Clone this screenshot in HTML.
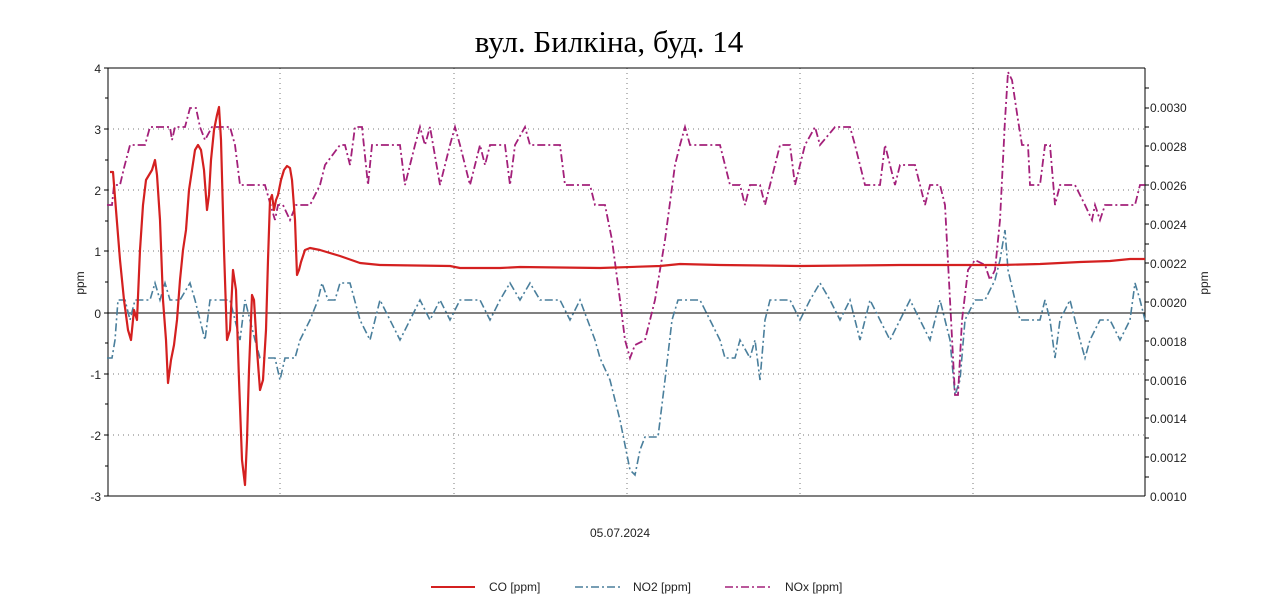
<!DOCTYPE html>
<html><head><meta charset="utf-8"><style>
body{margin:0;background:#fff;}
svg{display:block;}
text{font-family:"Liberation Sans",sans-serif;font-size:12px;fill:#222;}
</style></head><body>
<svg width="1280" height="606" viewBox="0 0 1280 606" xmlns="http://www.w3.org/2000/svg">
<text x="609" y="52" text-anchor="middle" style="font-family:'Liberation Serif',serif;font-size:31px;fill:#000">вул. Билкіна, буд. 14</text>
<g stroke="#777" stroke-width="1" stroke-dasharray="1,4">
<line x1="108" y1="129" x2="1145" y2="129"/><line x1="108" y1="190" x2="1145" y2="190"/>
<line x1="108" y1="251" x2="1145" y2="251"/><line x1="108" y1="374" x2="1145" y2="374"/>
<line x1="108" y1="435" x2="1145" y2="435"/>
<line x1="280" y1="68" x2="280" y2="496"/><line x1="454" y1="68" x2="454" y2="496"/>
<line x1="627" y1="68" x2="627" y2="496"/><line x1="800" y1="68" x2="800" y2="496"/>
<line x1="973" y1="68" x2="973" y2="496"/>
</g>
<line x1="108" y1="313" x2="1145" y2="313" stroke="#000" stroke-width="1"/>
<g stroke="#000" stroke-width="1" fill="none">
<line x1="108" y1="68" x2="1145" y2="68"/>
<line x1="108" y1="68" x2="108" y2="496"/>
<line x1="1145" y1="68" x2="1145" y2="496"/>
<line x1="108" y1="496" x2="1145" y2="496"/>
</g>
<g stroke="#000">
<line x1="104" y1="68" x2="108" y2="68"/><line x1="104" y1="129" x2="108" y2="129"/><line x1="104" y1="190" x2="108" y2="190"/><line x1="104" y1="251" x2="108" y2="251"/><line x1="104" y1="313" x2="108" y2="313"/><line x1="104" y1="374" x2="108" y2="374"/><line x1="104" y1="435" x2="108" y2="435"/><line x1="104" y1="496" x2="108" y2="496"/>
<line x1="105" y1="98" x2="108" y2="98"/><line x1="105" y1="160" x2="108" y2="160"/><line x1="105" y1="221" x2="108" y2="221"/><line x1="105" y1="282" x2="108" y2="282"/><line x1="105" y1="343" x2="108" y2="343"/><line x1="105" y1="404" x2="108" y2="404"/><line x1="105" y1="466" x2="108" y2="466"/>
<line x1="1145" y1="88" x2="1149" y2="88"/><line x1="1145" y1="108" x2="1149" y2="108"/><line x1="1145" y1="127" x2="1149" y2="127"/><line x1="1145" y1="146" x2="1149" y2="146"/><line x1="1145" y1="166" x2="1149" y2="166"/><line x1="1145" y1="185" x2="1149" y2="185"/><line x1="1145" y1="205" x2="1149" y2="205"/><line x1="1145" y1="224" x2="1149" y2="224"/><line x1="1145" y1="244" x2="1149" y2="244"/><line x1="1145" y1="263" x2="1149" y2="263"/><line x1="1145" y1="282" x2="1149" y2="282"/><line x1="1145" y1="302" x2="1149" y2="302"/><line x1="1145" y1="321" x2="1149" y2="321"/><line x1="1145" y1="341" x2="1149" y2="341"/><line x1="1145" y1="360" x2="1149" y2="360"/><line x1="1145" y1="380" x2="1149" y2="380"/><line x1="1145" y1="399" x2="1149" y2="399"/><line x1="1145" y1="418" x2="1149" y2="418"/><line x1="1145" y1="438" x2="1149" y2="438"/><line x1="1145" y1="457" x2="1149" y2="457"/><line x1="1145" y1="477" x2="1149" y2="477"/>
</g>
<g text-anchor="end">
<text x="101" y="73">4</text><text x="101" y="134">3</text><text x="101" y="195">2</text><text x="101" y="256">1</text><text x="101" y="318">0</text><text x="101" y="379">-1</text><text x="101" y="440">-2</text><text x="101" y="501">-3</text>
</g>
<g>
<text x="1150" y="112">0.0030</text><text x="1150" y="151">0.0028</text><text x="1150" y="190">0.0026</text><text x="1150" y="229">0.0024</text><text x="1150" y="268">0.0022</text><text x="1150" y="307">0.0020</text><text x="1150" y="346">0.0018</text><text x="1150" y="385">0.0016</text><text x="1150" y="423">0.0014</text><text x="1150" y="462">0.0012</text><text x="1150" y="501">0.0010</text>
</g>
<text transform="translate(84,283) rotate(-90)" text-anchor="middle">ppm</text>
<text transform="translate(1208,283) rotate(-90)" text-anchor="middle">ppm</text>
<text x="620" y="537" text-anchor="middle">05.07.2024</text>

<polyline fill="none" stroke="#4a7f9c" stroke-width="1.6" stroke-dasharray="8,3,2,3" points="107,358 112,358 115,340 118,300 125,300 130,320 135,300 150,300 155,283 160,300 165,283 170,300 180,300 190,283 195,300 200,320 205,340 210,300 230,300 235,320 240,340 245,300 250,320 255,340 260,358 265,358 275,358 280,380 285,358 295,358 300,340 310,320 318,300 322,283 328,300 335,300 340,283 350,283 360,320 370,340 375,320 380,300 390,320 400,340 410,320 420,300 430,320 440,300 450,320 460,300 480,300 490,320 500,300 510,283 520,300 530,283 540,300 560,300 570,320 580,300 595,340 600,358 610,380 620,420 630,470 635,475 640,450 645,437 658,437 665,380 672,320 678,300 700,300 710,320 720,340 725,358 735,358 740,340 750,358 755,340 760,380 765,320 770,300 790,300 800,320 810,300 820,283 830,300 840,320 850,300 860,340 870,300 880,320 890,340 900,320 910,300 920,320 930,340 940,300 945,320 950,340 955,395 960,380 965,320 975,300 985,300 995,280 1000,260 1005,230 1008,270 1015,300 1020,320 1040,320 1045,300 1050,320 1055,358 1060,320 1070,300 1080,340 1085,358 1090,340 1100,320 1110,320 1120,340 1130,320 1135,283 1140,300 1145,320"/>

<polyline fill="none" stroke="#a3207a" stroke-width="1.8" stroke-dasharray="8,3,2,3" points="107,205 112,205 114,185 120,185 124,168 130,145 145,145 150,127 160,127 170,127 172,140 175,127 185,127 190,108 196,108 200,127 205,140 212,127 230,127 235,145 240,185 265,185 270,203 275,220 278,205 283,205 290,220 296,205 310,205 320,185 325,165 340,145 345,145 350,165 355,127 362,127 368,185 372,145 400,145 405,185 415,145 420,127 425,145 430,127 440,185 450,145 455,127 460,145 470,185 480,145 485,165 490,145 505,145 510,185 515,145 525,127 530,145 560,145 565,185 590,185 595,205 605,205 612,240 620,300 625,340 630,358 635,345 645,340 655,300 665,240 675,165 680,145 685,127 690,145 720,145 725,165 730,185 740,185 745,205 750,185 760,185 765,205 770,185 780,145 790,145 795,185 800,165 805,145 815,127 820,145 835,127 850,127 855,145 860,165 865,185 880,185 885,145 895,185 900,165 915,165 920,185 925,205 930,185 940,185 945,205 950,300 955,395 958,395 962,320 968,270 975,260 985,265 990,280 995,270 1000,220 1005,120 1008,72 1012,80 1018,120 1022,145 1028,145 1030,185 1040,185 1045,145 1050,145 1055,205 1060,185 1075,185 1085,205 1092,220 1095,205 1100,220 1105,205 1135,205 1140,185 1145,185"/>

<polyline fill="none" stroke="#d42020" stroke-width="2.2" stroke-linejoin="round" points="110,172 113,172 116,210 120,260 124,300 128,330 131,340 134,310 137,320 140,250 143,205 146,180 149,175 152,170 155,160 157,175 160,220 163,300 166,340 168,383 171,360 174,345 177,320 180,280 183,250 186,230 189,190 192,170 195,150 198,145 201,150 204,170 207,210 209,195 211,160 214,130 217,115 219,107 221,140 224,250 227,340 230,330 233,270 236,290 239,380 242,460 245,485 247,440 249,370 252,295 254,300 257,350 260,390 263,380 266,330 268,260 270,200 272,195 274,210 276,200 278,195 281,180 284,170 287,166 290,168 292,180 295,220 297,275 299,270 301,262 305,250 310,248 320,250 340,256 360,263 380,265 450,266 460,268 500,268 520,267 600,268 660,266 680,264 720,265 800,266 900,265 960,265 1000,265 1040,264 1060,263 1080,262 1110,261 1130,259 1145,259"/>

<line x1="431" y1="587" x2="475" y2="587" stroke="#d42020" stroke-width="2"/>
<text x="489" y="591">CO [ppm]</text>
<line x1="575" y1="587" x2="620" y2="587" stroke="#4a7f9c" stroke-width="1.6" stroke-dasharray="8,3,2,3"/>
<text x="633" y="591">NO2 [ppm]</text>
<line x1="725" y1="587" x2="770" y2="587" stroke="#a3207a" stroke-width="1.6" stroke-dasharray="8,3,2,3"/>
<text x="785" y="591">NOx [ppm]</text>
</svg>
</body></html>
